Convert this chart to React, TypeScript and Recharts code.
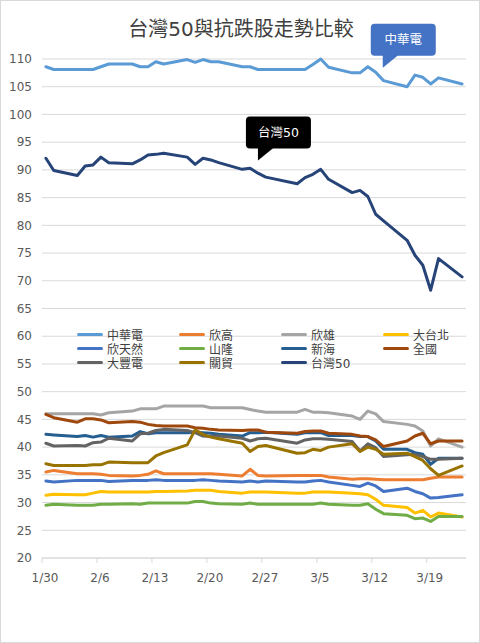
import React from "react";
import { LineChart, Line, XAxis, YAxis, CartesianGrid, ReferenceDot } from "recharts";

const dates = [
  "1/30", "1/31", "2/3", "2/4", "2/5", "2/6", "2/7", "2/10", "2/11", "2/12",
  "2/13", "2/14", "2/17", "2/18", "2/19", "2/20", "2/21", "2/24", "2/25", "2/26",
  "2/27", "3/2", "3/3", "3/4", "3/5", "3/6", "3/9", "3/10", "3/11", "3/12",
  "3/13", "3/16", "3/17", "3/18", "3/19", "3/20", "3/23",
];
const tickLabels = ["1/30", "2/6", "2/13", "2/20", "2/27", "3/5", "3/12", "3/19"];
const yTicks = [20, 25, 30, 35, 40, 45, 50, 55, 60, 65, 70, 75, 80, 85, 90, 95, 100, 105, 110];

const cht = [108.6, 108.1, 108.1, 108.1, 108.1, 108.6, 109.1, 109.1, 108.6, 108.6, 109.5, 109.1, 109.9, 109.4, 109.9, 109.5, 109.5, 108.6, 108.6, 108.1, 108.1, 108.1, 108.1, 109.0, 110.0, 108.5, 107.5, 107.5, 108.6, 107.6, 106.1, 105.0, 107.1, 106.7, 105.5, 106.6, 105.5];
const xinGao = [35.5, 35.8, 35.2, 35.2, 35.2, 35.1, 34.9, 34.8, 34.9, 35.1, 35.7, 35.2, 35.2, 35.2, 35.2, 35.2, 35.1, 34.8, 36.0, 34.9, 34.8, 34.9, 34.9, 34.9, 34.9, 34.6, 34.2, 34.3, 34.3, 34.2, 34.1, 34.1, 34.1, 34.1, 34.4, 34.6, 34.6];
const xinXiong = [46.0, 46.0, 46.0, 46.0, 46.0, 45.8, 46.2, 46.5, 46.9, 46.9, 46.9, 47.4, 47.4, 47.4, 47.4, 47.1, 47.1, 47.1, 46.8, 46.5, 46.3, 46.3, 46.8, 46.3, 46.3, 46.2, 45.6, 45.0, 46.5, 46.0, 44.6, 44.1, 43.8, 42.9, 40.2, 41.5, 40.0];
const daTaipei = [31.3, 31.5, 31.4, 31.4, 31.7, 32.0, 31.9, 31.9, 31.9, 31.9, 32.0, 32.0, 32.1, 32.2, 32.2, 32.2, 32.0, 31.7, 31.9, 31.9, 31.9, 31.7, 31.7, 31.9, 31.9, 31.9, 31.7, 31.6, 31.4, 30.6, 29.5, 29.1, 28.1, 28.6, 27.4, 28.1, 27.4];
const xinTianran = [33.9, 33.7, 34.0, 34.0, 34.0, 34.0, 33.8, 34.0, 34.0, 34.0, 34.1, 34.0, 34.0, 34.0, 34.1, 34.0, 33.9, 33.7, 33.9, 33.7, 33.9, 33.7, 33.7, 33.9, 34.0, 33.7, 33.1, 32.9, 33.5, 33.0, 32.0, 32.6, 32.0, 31.6, 30.8, 30.9, 31.4];
const shanLong = [29.5, 29.7, 29.5, 29.5, 29.5, 29.7, 29.7, 29.8, 29.7, 29.9, 29.9, 29.9, 29.9, 30.2, 30.2, 29.9, 29.8, 29.7, 29.9, 29.7, 29.7, 29.7, 29.7, 29.7, 29.9, 29.7, 29.5, 29.5, 29.8, 28.8, 28.0, 27.7, 27.1, 27.2, 26.6, 27.5, 27.5];
const xinHai = [42.3, 42.2, 41.9, 42.1, 41.8, 42.1, 41.8, 42.0, 42.8, 42.4, 42.6, 42.6, 42.6, 42.7, 42.6, 42.5, 42.3, 42.0, 42.6, 42.6, 42.7, 42.3, 42.6, 42.6, 42.6, 42.1, 42.1, 41.9, 41.9, 41.1, 39.6, 39.6, 39.0, 38.7, 36.9, 38.0, 38.0];
const quanGuo = [45.9, 45.3, 44.5, 45.1, 45.1, 44.9, 44.4, 44.6, 44.5, 44.1, 43.9, 43.8, 43.8, 43.5, 43.4, 43.2, 43.1, 43.0, 43.1, 43.1, 42.7, 42.5, 42.8, 42.9, 42.9, 42.5, 42.3, 42.0, 41.9, 41.3, 40.1, 41.1, 42.0, 42.5, 40.6, 41.1, 41.1];
const daFeng = [40.7, 40.2, 40.3, 40.2, 40.8, 40.9, 41.6, 41.1, 42.4, 42.5, 43.0, 43.2, 43.0, 42.6, 42.0, 41.9, 42.0, 41.6, 41.1, 41.5, 41.6, 40.7, 41.3, 41.5, 41.5, 41.4, 41.0, 39.3, 40.6, 39.9, 38.3, 38.6, 38.7, 38.3, 37.8, 37.8, 38.0];
const guanMao = [37.0, 36.7, 36.7, 36.7, 36.8, 36.8, 37.3, 37.2, 37.2, 37.2, 38.4, 39.0, 40.4, 43.1, 42.3, 41.8, 41.5, 40.7, 39.2, 40.1, 40.3, 38.9, 39.0, 39.6, 39.4, 40.0, 40.6, 39.2, 40.0, 39.6, 38.7, 38.9, 38.3, 37.6, 36.1, 34.9, 36.6];
const tw50 = [92.1, 89.9, 89.0, 90.7, 90.9, 92.3, 91.3, 91.1, 91.8, 92.7, 92.8, 93.0, 92.3, 91.0, 92.1, 91.8, 91.3, 90.1, 90.3, 89.4, 88.7, 87.5, 88.6, 89.2, 90.1, 88.3, 85.9, 86.3, 85.2, 82.0, 80.8, 77.3, 74.6, 72.8, 68.3, 74.0, 70.7];

const series = [
  { name: "中華電", color: "#5B9BD5", values: cht },
  { name: "欣高", color: "#ED7D31", values: xinGao },
  { name: "欣雄", color: "#A5A5A5", values: xinXiong },
  { name: "大台北", color: "#FFC000", values: daTaipei },
  { name: "欣天然", color: "#4472C4", values: xinTianran },
  { name: "山隆", color: "#70AD47", values: shanLong },
  { name: "新海", color: "#255E91", values: xinHai },
  { name: "全國", color: "#9E480E", values: quanGuo },
  { name: "大豐電", color: "#636363", values: daFeng },
  { name: "關貿", color: "#997300", values: guanMao },
  { name: "台灣50", color: "#264478", values: tw50 },
];

// callouts point at a (day, value) spot on the chart
const callouts = [
  { text: "中華電", day: 43.4, value: 108.4, fill: "#4472C4" },
  { text: "台灣50", day: 27.5, value: 91.7, fill: "#000000" },
];

const FONT = "'DejaVu Sans', 'Noto Sans CJK TC', sans-serif";

const dayOf = (s: string) => {
  const [m, d] = s.split("/").map(Number);
  return Math.round((Date.UTC(2020, m - 1, d) - Date.UTC(2020, 0, 30)) / 86400000);
};

const data = dates.map((s, i) => {
  const row: Record<string, number> = { x: dayOf(s) + 0.5 };
  series.forEach((sr) => {
    row[sr.name] = sr.values[i];
  });
  return row;
});

const xTicks = tickLabels.map(dayOf);
const xEnd = dayOf(dates[dates.length - 1]) + 1;

const Callout = (props: any) => {
  const { cx, cy, text, fill } = props;
  if (cx == null || cy == null) return null;
  const w = 65;
  const h = 32;
  const left = cx - 12;
  const top = cy - 12 - h;
  return (
    <g>
      <rect x={left} y={top} width={w} height={h} rx={4} ry={4} fill={fill} />
      <polygon points={`${cx},${cy - 13} ${cx + 16},${cy - 13} ${cx},${cy}`} fill={fill} />
      <text
        x={left + w / 2}
        y={top + h / 2}
        dy="0.36em"
        textAnchor="middle"
        fill="#fff"
        fontSize={12.5}
        fontFamily={FONT}
      >
        {text}
      </text>
    </g>
  );
};

const App = () => {
  return (
    <div
      style={{
        position: "absolute",
        top: 0,
        left: 0,
        width: 480,
        height: 643,
        background: "#fff",
        border: "1px solid #D9D9D9",
        boxSizing: "border-box",
        fontFamily: FONT,
      }}
    >
      <div
        style={{
          position: "absolute",
          top: 15,
          left: 0,
          width: 480,
          textAlign: "center",
          fontSize: 20,
          lineHeight: "26px",
          color: "#404040",
        }}
      >
        台灣50與抗跌股走勢比較
      </div>
      <div style={{ position: "absolute", top: -1, left: -1 }}>
        <LineChart
          width={480}
          height={643}
          data={data}
          margin={{ top: 59, right: 14, bottom: 55, left: 0 }}
        >
          <CartesianGrid vertical={false} stroke="#D9D9D9" />
          <XAxis
            dataKey="x"
            type="number"
            domain={[0, xEnd]}
            ticks={xTicks}
            tickFormatter={(v: number) => tickLabels[xTicks.indexOf(v)] ?? ""}
            height={30}
            axisLine={{ stroke: "#D9D9D9" }}
            tickLine={{ stroke: "#D9D9D9" }}
            tickSize={5}
            tickMargin={10}
            tick={{ fill: "#595959", fontSize: 12, fontFamily: FONT, dx: 3 }}
            interval={0}
          />
          <YAxis
            domain={[20, 110]}
            ticks={yTicks}
            width={42}
            axisLine={false}
            tickLine={false}
            tickSize={6}
            tickMargin={4}
            tick={{ fill: "#595959", fontSize: 12, fontFamily: FONT }}
            interval={0}
          />
          {series.map((s) => (
            <Line
              key={s.name}
              type="linear"
              dataKey={s.name}
              stroke={s.color}
              strokeWidth={3}
              strokeLinejoin="round"
              strokeLinecap="round"
              dot={false}
              activeDot={false}
              isAnimationActive={false}
            />
          ))}
          {callouts.map((c) => (
            <ReferenceDot
              key={c.text}
              x={c.day}
              y={c.value}
              ifOverflow="visible"
              shape={(p: any) => <Callout {...p} text={c.text} fill={c.fill} />}
            />
          ))}
        </LineChart>
      </div>
      <div
        style={{
          position: "absolute",
          top: 326,
          left: 76,
          width: 410,
          display: "grid",
          gridTemplateColumns: "102px 102px 102px 102px",
          rowGap: 0,
          fontSize: 12,
          color: "#595959",
        }}
      >
        {series.map((s) => (
          <div key={s.name} style={{ display: "flex", alignItems: "center", height: 14 }}>
            <span
              style={{
                display: "inline-block",
                width: 26,
                height: 3,
                background: s.color,
                borderRadius: 2,
                marginRight: 4,
              }}
            />
            <span style={{ color: "#404040", whiteSpace: "nowrap" }}>{s.name}</span>
          </div>
        ))}
      </div>
    </div>
  );
};

export default App;
